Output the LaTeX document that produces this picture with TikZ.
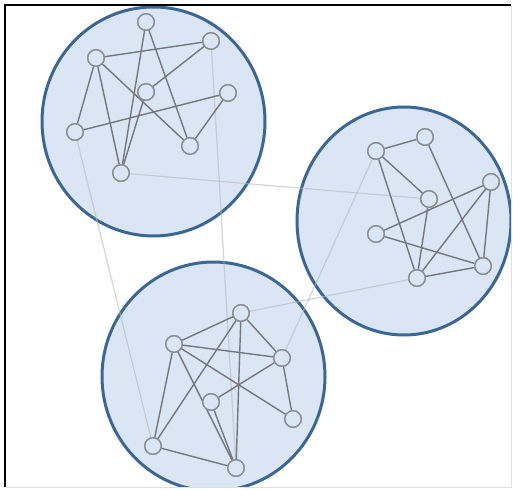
\documentclass[tikz,border=0pt]{standalone}
\begin{document}
\begin{tikzpicture}[x=1pt,y=-1pt,
  cluster/.style={draw=clusterline,line width=3pt,fill=clusterfill},
  vtx/.style={circle,draw=vtxline,line width=1.4pt,fill=clusterfill,minimum size=16.5pt,inner sep=0pt},
  edge/.style={draw=edgecol,line width=1.4pt},
  bridge/.style={draw=bridgecol,line width=1.2pt,opacity=0.6}]
\definecolor{clusterline}{HTML}{3B6795}
\definecolor{clusterfill}{HTML}{DAE6F3}
\definecolor{vtxline}{HTML}{8A8F96}
\definecolor{edgecol}{HTML}{74787E}
\definecolor{bridgecol}{HTML}{B4BAC2}
\useasboundingbox (0,0) rectangle (513,489);
\fill[white] (0,0) rectangle (513,489);
\begin{scope}
\clip (5,5) rectangle (511,487);
% clusters
\draw[cluster] (153.5,121.5) ellipse [x radius=111.5, y radius=114.5];
\draw[cluster] (404,221) ellipse [x radius=107, y radius=114];
\draw[cluster] (213.5,376.5) ellipse [x radius=111.5, y radius=114.5];
% nodes cluster A
\node[vtx] (a1) at (146,22) {};
\node[vtx] (a2) at (211,41) {};
\node[vtx] (a3) at (96,58) {};
\node[vtx] (a4) at (146,92) {};
\node[vtx] (a5) at (228,93) {};
\node[vtx] (a6) at (75,132) {};
\node[vtx] (a7) at (190,146) {};
\node[vtx] (a8) at (121,173) {};
% nodes cluster B
\node[vtx] (b1) at (376,151) {};
\node[vtx] (b2) at (425,137) {};
\node[vtx] (b3) at (491,182) {};
\node[vtx] (b4) at (429,199) {};
\node[vtx] (b5) at (376,234) {};
\node[vtx] (b6) at (483,266) {};
\node[vtx] (b7) at (417,278) {};
% nodes cluster C
\node[vtx] (c1) at (241,313) {};
\node[vtx] (c2) at (174,344) {};
\node[vtx] (c3) at (282,358) {};
\node[vtx] (c4) at (211,402) {};
\node[vtx] (c5) at (293,419) {};
\node[vtx] (c6) at (153,446) {};
\node[vtx] (c7) at (236,468) {};
% bridges
\draw[bridge] (a8) -- (b4);
\draw[bridge] (a6) -- (c6);
\draw[bridge] (a2) -- (c7);
\draw[bridge] (b1) -- (c3);
\draw[bridge] (b7) -- (c1);
% cluster A edges
\draw[edge] (a3) -- (a2);
\draw[edge] (a3) -- (a6);
\draw[edge] (a3) -- (a8);
\draw[edge] (a3) -- (a7);
\draw[edge] (a1) -- (a8);
\draw[edge] (a1) -- (a7);
\draw[edge] (a2) -- (a4);
\draw[edge] (a4) -- (a8);
\draw[edge] (a6) -- (a5);
\draw[edge] (a5) -- (a7);
% cluster B edges
\draw[edge] (b1) -- (b2);
\draw[edge] (b1) -- (b4);
\draw[edge] (b1) -- (b7);
\draw[edge] (b2) -- (b6);
\draw[edge] (b3) -- (b5);
\draw[edge] (b3) -- (b7);
\draw[edge] (b3) -- (b6);
\draw[edge] (b4) -- (b7);
\draw[edge] (b5) -- (b6);
\draw[edge] (b7) -- (b6);
% cluster C edges
\draw[edge] (c2) -- (c1);
\draw[edge] (c1) -- (c3);
\draw[edge] (c1) -- (c6);
\draw[edge] (c1) -- (c7);
\draw[edge] (c2) -- (c3);
\draw[edge] (c2) -- (c5);
\draw[edge] (c2) -- (c6);
\draw[edge] (c2) -- (c7);
\draw[edge] (c3) -- (c4);
\draw[edge] (c3) -- (c5);
\draw[edge] (c4) -- (c7);
\draw[edge] (c6) -- (c7);
% redraw nodes on top
\foreach \n in {a1,a2,a3,a4,a5,a6,a7,a8,b1,b2,b3,b4,b5,b6,b7,c1,c2,c3,c4,c5,c6,c7}
  \node[vtx] at (\n) {};
\end{scope}
% frame
\draw[black,line width=2pt] (5,487) -- (5,5) -- (511,5);
\draw[black!12,line width=1pt] (511,5) -- (511,487) -- (5,487);
\end{tikzpicture}
\end{document}
